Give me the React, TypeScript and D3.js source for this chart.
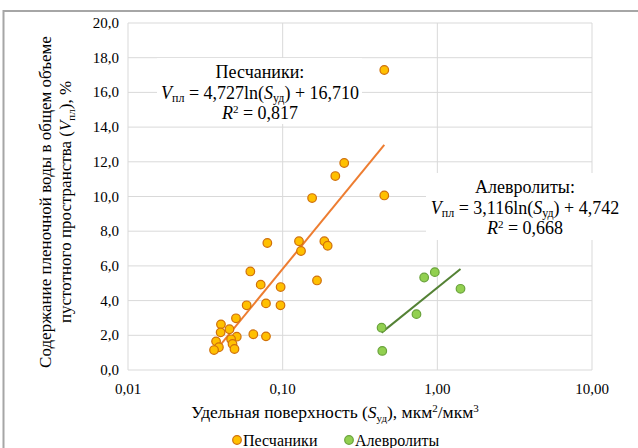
import * as d3 from 'd3';

// Песчаники: [S_уд, V_пл]
const sandS = [0.454, 0.25, 0.219, 0.155, 0.454, 0.0796, 0.1275, 0.1314, 0.186, 0.1954, 0.0618, 0.0721, 0.097, 0.1667, 0.0585, 0.078, 0.0968, 0.0499, 0.0399, 0.0453, 0.0397, 0.0646, 0.078, 0.0505, 0.0464, 0.0371, 0.0474, 0.0488, 0.0387, 0.036];
const sandV = [17.29, 11.93, 11.18, 9.91, 10.06, 7.32, 7.42, 6.86, 7.42, 7.16, 5.68, 4.92, 4.78, 5.16, 3.73, 3.84, 3.73, 2.98, 2.63, 2.35, 2.17, 2.06, 1.94, 1.92, 1.77, 1.65, 1.5, 1.21, 1.31, 1.15];
// Алевролиты
const siltS = [0.436, 0.4406, 0.733, 0.822, 0.963, 1.412];
const siltV = [2.44, 1.1, 3.22, 5.33, 5.64, 4.68];

const sandFit = { a: 4.727, b: 16.71 };
const siltFit = { a: 3.116, b: 4.742 };

const xTicks = [0.01, 0.1, 1, 10];
const xTickLabels = ['0,01', '0,10', '1,00', '10,00'];
const yTicks = [0, 2, 4, 6, 8, 10, 12, 14, 16, 18, 20];

const W = 638;
const H = 448;
const font = "'Liberation Serif', 'DejaVu Serif', serif";

const x = d3.scaleLog().domain([0.01, 10]).range([128, 592]);
const y = d3.scaleLinear().domain([0, 20]).range([370, 23]);

const fitLine = (xs: number[], fit: { a: number; b: number }) => {
  const ext = d3.extent(xs) as [number, number];
  return d3
    .line<number>()
    .x((s) => x(s))
    .y((s) => y(fit.a * Math.log(s) + fit.b))(ext);
};

const Sub = ({ children }: { children: string }) => (
  <tspan fontSize={12} dy={3}>
    {children}
  </tspan>
);

const Equation = ({ cx, cy, title, a, b, r2 }: { cx: number; cy: number; title: string; a: string; b: string; r2: string }) => (
  <g fontSize={18} fill="#000" textAnchor="middle">
    <text x={cx} y={cy}>{title}</text>
    <text x={cx} y={cy + 21}>
      <tspan fontStyle="italic">V</tspan>
      <Sub>пл</Sub>
      <tspan dy={-3}>{' = ' + a + 'ln('}</tspan>
      <tspan fontStyle="italic">S</tspan>
      <Sub>уд</Sub>
      <tspan dy={-3}>{') + ' + b}</tspan>
    </text>
    <text x={cx} y={cy + 41}>
      <tspan fontStyle="italic">R</tspan>
      <tspan fontSize={11} dy={-6}>2</tspan>
      <tspan dy={6}>{' = ' + r2}</tspan>
    </text>
  </g>
);

export default function App() {
  const grid = '#d9d9d9';
  return (
    <svg width={W} height={H} fontFamily={font} style={{ position: 'absolute', left: 0, top: 0, background: '#fff' }}>
      {/* outer frame (cropped) */}
      <path d={`M3.5,${H} V11 H${W}`} fill="none" stroke="#a6a6a6" strokeWidth={2} />

      {/* grid */}
      {yTicks.map((t) => (
        <line key={'gy' + t} x1={128} x2={592} y1={y(t)} y2={y(t)} stroke={grid} strokeWidth={1} />
      ))}
      {xTicks.map((t) => (
        <line key={'gx' + t} x1={x(t)} x2={x(t)} y1={23} y2={370} stroke={grid} strokeWidth={1} />
      ))}

      {/* y ticks */}
      <g fontSize={15} fill="#000" textAnchor="end">
        {yTicks.map((t) => (
          <text key={'ty' + t} x={119} y={y(t) + 5}>
            {t.toFixed(1).replace('.', ',')}
          </text>
        ))}
      </g>
      {/* x ticks */}
      <g fontSize={15} fill="#000" textAnchor="middle">
        {xTicks.map((t, i) => (
          <text key={'tx' + t} x={x(t)} y={394}>
            {xTickLabels[i]}
          </text>
        ))}
      </g>

      {/* trend lines */}
      <path d={fitLine(sandS, sandFit) || ''} fill="none" stroke="#ED7D31" strokeWidth={2} />
      <path d={fitLine(siltS, siltFit) || ''} fill="none" stroke="#548235" strokeWidth={2} />

      {/* points */}
      {sandS.map((s, i) => (
        <circle key={'s' + i} cx={x(s)} cy={y(sandV[i])} r={4.3} fill="#FFC000" stroke="#D0700A" strokeWidth={1.2} />
      ))}
      {siltS.map((s, i) => (
        <circle key={'a' + i} cx={x(s)} cy={y(siltV[i])} r={4.3} fill="#92D050" stroke="#6AA33C" strokeWidth={1.2} />
      ))}

      {/* labels */}
      <rect x={157} y={58} width={205} height={66} fill="#fff" />
      <Equation cx={260} cy={78} title="Песчаники:" a="4,727" b="16,710" r2="0,817" />
      <rect x={426} y={173} width={198} height={67} fill="#fff" />
      <Equation cx={525} cy={193} title="Алевролиты:" a="3,116" b="4,742" r2="0,668" />

      {/* axis titles */}
      <g fontSize={17} fill="#000" textAnchor="middle">
        <text x={335} y={418} fontSize={17.5}>
          {'Удельная поверхность ('}
          <tspan fontStyle="italic">S</tspan>
          <tspan fontSize={11} dy={4}>уд</tspan>
          <tspan dy={-4}>), мкм</tspan>
          <tspan fontSize={11} dy={-6}>2</tspan>
          <tspan dy={6}>/мкм</tspan>
          <tspan fontSize={11} dy={-6}>3</tspan>
        </text>
        <g transform="translate(0,202) rotate(-90)">
          <text x={0} y={51}>Содержание пленочной воды в общем объеме</text>
          <text x={0} y={71}>
            {'пустотного пространства ('}
            <tspan fontStyle="italic">V</tspan>
            <tspan fontSize={11} dy={4}>пл</tspan>
            <tspan dy={-4}>), %</tspan>
          </text>
        </g>
      </g>

      {/* legend */}
      <g fontSize={16} fill="#000">
        <circle cx={237} cy={440} r={4.3} fill="#FFC000" stroke="#D0700A" strokeWidth={1.2} />
        <text x={243} y={446}>Песчаники</text>
        <circle cx={349} cy={440} r={4.3} fill="#92D050" stroke="#6AA33C" strokeWidth={1.2} />
        <text x={355} y={446}>Алевролиты</text>
      </g>
    </svg>
  );
}
